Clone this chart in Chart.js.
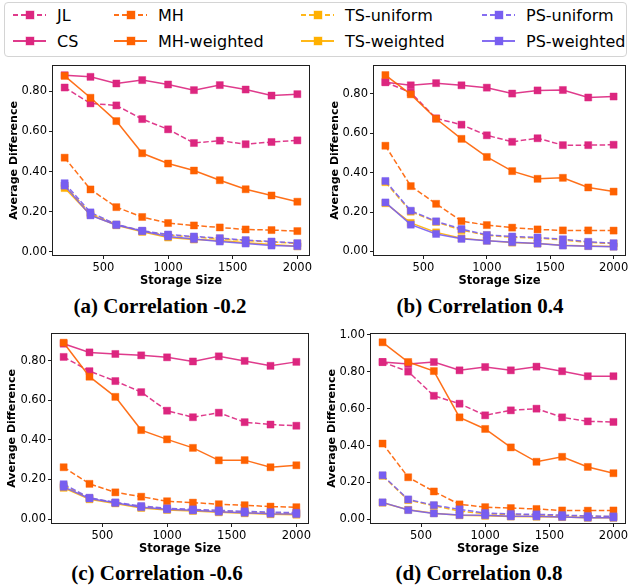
<!DOCTYPE html>
<html><head><meta charset="utf-8">
<script src="https://cdn.jsdelivr.net/npm/chart.js@4/dist/chart.umd.min.js"></script>
<style>
body{margin:0;background:#fff;width:631px;height:588px;overflow:hidden;position:relative;font-family:"DejaVu Sans";}
canvas{position:absolute;}
#legend{position:absolute;left:4px;top:2px;width:623px;height:55px;border:1px solid #d4d4d4;border-radius:4px;box-sizing:border-box;}
.item{position:absolute;height:20px;display:flex;align-items:center;font-size:16px;color:#000;white-space:nowrap;}
.sw{position:relative;width:33px;height:20px;margin-right:11px;flex:none;}
.sw .ln{position:absolute;left:0;right:0;top:9.25px;height:1.5px;}
.sw .mk{position:absolute;left:12.5px;top:6px;width:8px;height:8px;}
.cap{position:absolute;width:300px;height:24px;line-height:24px;font-family:"Liberation Serif";font-weight:bold;font-size:21px;text-align:center;white-space:nowrap;color:#000;}
</style></head>
<body>
<div id="legend"></div>
<canvas id="ca" width="315" height="230" style="left:0;top:60px"></canvas>
<canvas id="cb" width="316" height="230" style="left:315px;top:60px"></canvas>
<canvas id="cc" width="315" height="230" style="left:0;top:328px"></canvas>
<canvas id="cd" width="316" height="230" style="left:315px;top:328px"></canvas>
<script>
// ---------- data ----------
const sizes = [200, 400, 600, 800, 1000, 1200, 1400, 1600, 1800, 2000];
const xTicks = [500, 1000, 1500, 2000];
const yTicks = [0, 0.2, 0.4, 0.6, 0.8];
const yTicksD = [0, 0.2, 0.4, 0.6, 0.8, 1.0];
const seriesNames = ['JL', 'CS', 'MH', 'MH-weighted', 'TS-uniform', 'TS-weighted', 'PS-uniform', 'PS-weighted'];
const captions = ['(a) Correlation -0.2', '(b) Correlation 0.4', '(c) Correlation -0.6', '(d) Correlation 0.8'];
const xTitle = 'Storage Size';
const yTitle = 'Average Difference';

// (a) Correlation -0.2
const jlA  = [0.818, 0.739, 0.729, 0.661, 0.610, 0.542, 0.554, 0.536, 0.547, 0.555];
const csA  = [0.879, 0.871, 0.838, 0.855, 0.833, 0.805, 0.830, 0.808, 0.778, 0.785];
const mhA  = [0.469, 0.311, 0.223, 0.174, 0.144, 0.132, 0.122, 0.112, 0.109, 0.104];
const mhwA = [0.876, 0.767, 0.651, 0.491, 0.440, 0.405, 0.357, 0.312, 0.281, 0.250];
const tsuA = [0.330, 0.192, 0.136, 0.104, 0.084, 0.074, 0.066, 0.057, 0.050, 0.042];
const tswA = [0.318, 0.185, 0.133, 0.100, 0.072, 0.062, 0.057, 0.046, 0.037, 0.028];
const psuA = [0.342, 0.197, 0.137, 0.106, 0.087, 0.077, 0.069, 0.059, 0.052, 0.044];
const pswA = [0.330, 0.182, 0.134, 0.104, 0.077, 0.064, 0.052, 0.042, 0.032, 0.029];

// (b) Correlation 0.4
const jlB  = [0.860, 0.807, 0.676, 0.644, 0.590, 0.557, 0.575, 0.540, 0.540, 0.542];
const csB  = [0.860, 0.844, 0.855, 0.844, 0.832, 0.802, 0.818, 0.820, 0.782, 0.787];
const mhB  = [0.537, 0.332, 0.242, 0.154, 0.134, 0.121, 0.112, 0.107, 0.107, 0.106];
const mhwB = [0.896, 0.798, 0.674, 0.572, 0.480, 0.408, 0.369, 0.374, 0.325, 0.304];
const tsuB = [0.352, 0.202, 0.150, 0.108, 0.082, 0.072, 0.068, 0.058, 0.046, 0.040];
const tswB = [0.245, 0.145, 0.097, 0.067, 0.055, 0.045, 0.040, 0.032, 0.028, 0.025];
const psuB = [0.358, 0.207, 0.153, 0.114, 0.084, 0.076, 0.071, 0.062, 0.049, 0.042];
const pswB = [0.249, 0.136, 0.089, 0.064, 0.054, 0.047, 0.040, 0.030, 0.027, 0.024];

// (c) Correlation -0.6
const jlC  = [0.820, 0.748, 0.698, 0.642, 0.548, 0.515, 0.538, 0.490, 0.478, 0.472];
const csC  = [0.887, 0.843, 0.835, 0.828, 0.818, 0.797, 0.823, 0.800, 0.775, 0.795];
const mhC  = [0.262, 0.178, 0.135, 0.113, 0.090, 0.083, 0.075, 0.070, 0.063, 0.060];
const mhwC = [0.892, 0.720, 0.618, 0.450, 0.403, 0.360, 0.297, 0.298, 0.262, 0.272];
const tsuC = [0.170, 0.106, 0.082, 0.062, 0.051, 0.046, 0.040, 0.036, 0.031, 0.028];
const tswC = [0.158, 0.100, 0.079, 0.056, 0.046, 0.041, 0.034, 0.029, 0.024, 0.022];
const psuC = [0.176, 0.108, 0.084, 0.066, 0.054, 0.049, 0.044, 0.039, 0.035, 0.032];
const pswC = [0.163, 0.104, 0.082, 0.060, 0.049, 0.044, 0.037, 0.032, 0.027, 0.025];

// (d) Correlation 0.8
const jlD  = [0.853, 0.801, 0.670, 0.627, 0.564, 0.591, 0.600, 0.553, 0.531, 0.528];
const csD  = [0.853, 0.842, 0.853, 0.808, 0.826, 0.808, 0.828, 0.803, 0.776, 0.776];
const mhD  = [0.411, 0.228, 0.151, 0.081, 0.066, 0.061, 0.056, 0.048, 0.047, 0.048];
const mhwD = [0.960, 0.853, 0.804, 0.553, 0.490, 0.390, 0.312, 0.339, 0.284, 0.250];
const tsuD = [0.236, 0.104, 0.074, 0.045, 0.030, 0.026, 0.024, 0.020, 0.016, 0.014];
const tswD = [0.090, 0.052, 0.033, 0.022, 0.019, 0.015, 0.014, 0.012, 0.008, 0.008];
const psuD = [0.239, 0.108, 0.077, 0.054, 0.034, 0.029, 0.027, 0.023, 0.018, 0.016];
const pswD = [0.092, 0.050, 0.032, 0.023, 0.022, 0.016, 0.016, 0.013, 0.009, 0.009];

// ---------- styles ----------
const rgb = ['220,38,127', '220,38,127', '254,97,0', '254,97,0', '255,176,0', '255,176,0', '120,94,240', '120,94,240'];
const dashed = [true, false, true, false, true, false, true, false];
const axisColor = '#1f1f1f';

// ---------- legend ----------
const legendPos = [[8, 2], [8, 28], [109, 2], [109, 28], [296, 2], [296, 28], [477, 2], [477, 28]];
const legend = document.getElementById('legend');
seriesNames.forEach((name, i) => {
  const it = document.createElement('div');
  it.className = 'item';
  it.style.left = legendPos[i][0] + 'px';
  it.style.top = legendPos[i][1] + 'px';
  const lineBg = dashed[i]
    ? `repeating-linear-gradient(to right, rgba(${rgb[i]},0.9) 0 5.5px, transparent 5.5px 8px)`
    : `rgba(${rgb[i]},0.9)`;
  it.innerHTML = `<div class="sw"><div class="ln" style="background:${lineBg}"></div>` +
    `<div class="mk" style="background:rgb(${rgb[i]});box-shadow:0 0 0 0.5px rgba(${rgb[i]},0.4)"></div></div><span>${name}</span>`;
  legend.appendChild(it);
});

// ---------- captions ----------
const capPos = [[160, 306], [480, 306], [157, 573], [479, 573]];
captions.forEach((t, i) => {
  const d = document.createElement('div');
  d.className = 'cap';
  d.textContent = t;
  d.style.left = (capPos[i][0] - 150) + 'px';
  d.style.top = (capPos[i][1] - 12) + 'px';
  document.body.appendChild(d);
});

// ---------- charts ----------
const frame = {
  id: 'frame',
  afterDraw(chart) {
    const {ctx, chartArea: a} = chart;
    ctx.save();
    ctx.strokeStyle = axisColor;
    ctx.lineWidth = 1;
    const l = Math.round(a.left) - 0.5, t = Math.round(a.top) - 0.5;
    const r = Math.round(a.right) + 0.5, b = Math.round(a.bottom) + 0.5;
    ctx.strokeRect(l, t, r - l, b - t);
    ctx.restore();
  }
};

function build(id, series, yMin, yMax, yT, yW, pad, yTitlePad) {
  const datasets = series.map((v, i) => ({
    label: seriesNames[i],
    data: sizes.map((s, k) => ({x: s, y: v[k]})),
    borderColor: `rgba(${rgb[i]},0.9)`,
    backgroundColor: `rgb(${rgb[i]})`,
    pointBackgroundColor: `rgb(${rgb[i]})`,
    pointBorderColor: `rgba(${rgb[i]},0.4)`,
    pointBorderWidth: 1,
    pointStyle: 'rect',
    pointRadius: 5,
    borderWidth: 1.5,
    borderDash: dashed[i] ? [5.5, 2.5] : [],
    order: 7 - i,
    tension: 0,
    fill: false
  }));
  return new Chart(document.getElementById(id), {
    type: 'line',
    data: {datasets},
    plugins: [frame],
    options: {
      responsive: false,
      animation: false,
      devicePixelRatio: 1,
      layout: {padding: pad},
      plugins: {legend: {display: false}, tooltip: {enabled: false}},
      scales: {
        x: {
          type: 'linear', min: 110, max: 2090,
          afterBuildTicks: s => { s.ticks = xTicks.map(v => ({value: v})); },
          afterFit: s => { s.height = 35; s.paddingLeft = 0; s.paddingRight = 0; },
          grid: {display: true, drawOnChartArea: false, drawTicks: true, tickLength: 4, color: axisColor},
          border: {display: false},
          ticks: {color: '#000', font: {family: 'DejaVu Sans', size: 11.5}, padding: 2, maxRotation: 0, autoSkip: false,
                  callback: v => String(v)},
          title: {display: true, text: xTitle, color: '#000', font: {family: 'DejaVu Sans', size: 11.5, weight: 'bold'},
                  padding: {top: 0, bottom: 2}}
        },
        y: {
          min: yMin, max: yMax,
          afterBuildTicks: s => { s.ticks = yT.map(v => ({value: v})); },
          afterFit: s => { s.width = yW; s.paddingTop = 0; s.paddingBottom = 0; },
          grid: {display: true, drawOnChartArea: false, drawTicks: true, tickLength: 4, color: axisColor},
          border: {display: false},
          ticks: {color: '#000', font: {family: 'DejaVu Sans', size: 11.5}, padding: 2, autoSkip: false,
                  callback: v => Number(v).toFixed(2)},
          title: {display: true, text: yTitle, color: '#000', font: {family: 'DejaVu Sans', size: 11, weight: 'bold'},
                  padding: {top: yTitlePad, bottom: 0}}
        }
      }
    }
  });
}

build('ca', [jlA, csA, mhA, mhwA, tsuA, tswA, psuA, pswA], -0.015, 0.925, yTicks, 53, {top: 5, right: 5, left: 0, bottom: 0}, 7.4);
build('cb', [jlB, csB, mhB, mhwB, tsuB, tswB, psuB, pswB], -0.018, 0.942, yTicks, 59, {top: 5, right: 1, left: 0, bottom: 0}, 13.9);
build('cc', [jlC, csC, mhC, mhwC, tsuC, tswC, psuC, pswC], -0.02, 0.936, yTicks, 52, {top: 4, right: 7, left: 0, bottom: 0}, 5.9);
build('cd', [jlD, csD, mhD, mhwD, tsuD, tswD, psuD, pswD], -0.02, 1.005, yTicksD, 56, {top: 5, right: 4, left: 0, bottom: 0}, 10.4);
</script>
</body></html>
